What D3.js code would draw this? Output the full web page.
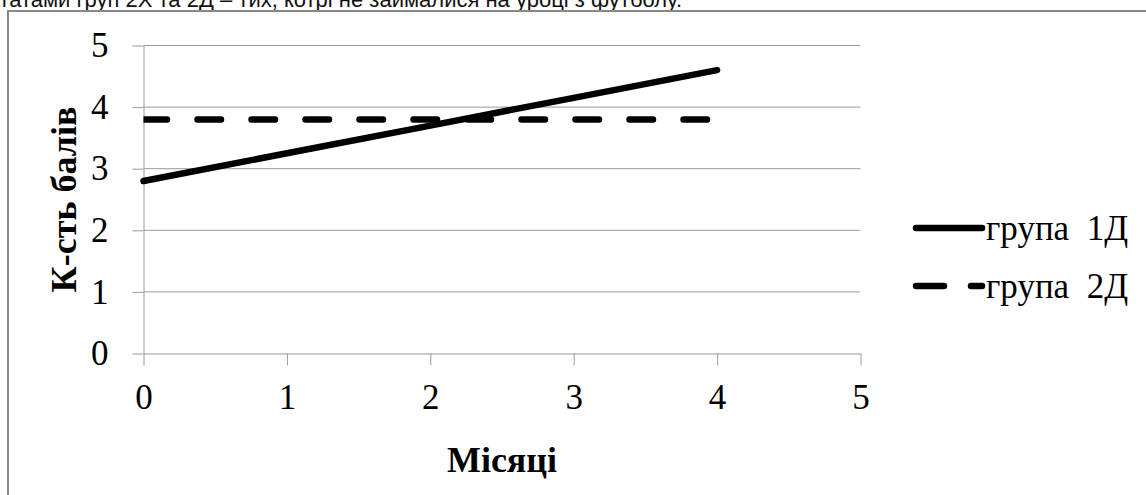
<!DOCTYPE html>
<html><head><meta charset="utf-8">
<script src="https://cdn.jsdelivr.net/npm/d3@7"></script>
<style>
html,body{margin:0;padding:0;background:#fff;overflow:hidden}
svg{display:block}
</style></head>
<body>
<svg id="c" width="1146" height="495"></svg>
<script>
const caption = "татами груп 2Х та 2Д – тих, котрі не займалися на уроці з футболу.";
const months = [0, 1, 2, 3, 4];
const group1 = [2.8, 3.25, 3.7, 4.15, 4.6];
const group2 = [3.8, 3.8, 3.8, 3.8, 3.8];
const seriesNames = ["група  1Д", "група  2Д"];
const xTicks = [0, 1, 2, 3, 4, 5];
const yTicks = [0, 1, 2, 3, 4, 5];
const xTitle = "Місяці";
const yTitle = "К-сть балів";

const svg = d3.select("#c");
const serif = "'Liberation Serif','Times New Roman',serif";
const grey = "#9a9a9a";

// caption (cut off at top, as in the source)
svg.append("text").attr("x", 682).attr("y", 7).attr("text-anchor", "end")
  .attr("font-family", "'Liberation Sans Narrow','Arial Narrow','Liberation Sans',Arial,sans-serif")
  .attr("font-size", 22).attr("fill", "#111").text(caption);

// outer frame
svg.append("rect").attr("x", 8).attr("y", 11).attr("width", 1200).attr("height", 600)
  .attr("fill", "none").attr("stroke", "#888").attr("stroke-width", 2);

const x = d3.scaleLinear().domain([0, 5]).range([143.5, 860.5]);
const y = d3.scaleLinear().domain([0, 5]).range([353.5, 45.5]);

// gridlines
svg.append("g").selectAll("line").data(yTicks.filter(d => d > 0)).join("line")
  .attr("x1", x(0)).attr("x2", x(5)).attr("y1", d => y(d)).attr("y2", d => y(d))
  .attr("stroke", grey).attr("stroke-width", 1);

// y axis
const ya = svg.append("g").attr("transform", `translate(${x(0)},0)`)
  .call(d3.axisLeft(y).tickValues(yTicks).tickSizeInner(11).tickSizeOuter(0).tickPadding(24).tickFormat(d3.format("d")));
ya.select(".domain").attr("stroke", grey);
ya.selectAll(".tick line").attr("stroke", grey);
ya.selectAll("text").attr("font-family", serif).attr("font-size", 35).attr("fill", "#000");

// x axis
const xa = svg.append("g").attr("transform", `translate(0,${y(0)})`)
  .call(d3.axisBottom(x).tickValues(xTicks).tickSizeInner(12).tickSizeOuter(0).tickPadding(19).tickFormat(d3.format("d")));
xa.select(".domain").attr("stroke", grey);
xa.selectAll(".tick line").attr("stroke", grey);
xa.selectAll("text").attr("font-family", serif).attr("font-size", 35).attr("fill", "#000");

// lines
const line = d3.line().x((d, i) => x(months[i])).y(d => y(d));
svg.append("defs").append("clipPath").attr("id", "pa").append("rect")
  .attr("x", x(0)).attr("y", y(5)).attr("width", x(5) - x(0)).attr("height", y(0) - y(5));
svg.append("path").datum(group1).attr("d", line).attr("fill", "none")
  .attr("stroke", "#000").attr("stroke-width", 6.5).attr("stroke-linecap", "round");
svg.append("path").datum(group2).attr("d", line).attr("fill", "none").attr("clip-path", "url(#pa)")
  .attr("stroke", "#000").attr("stroke-width", 6.5).attr("stroke-linecap", "round")
  .attr("stroke-dasharray", "23.5,30.5");

// titles
svg.append("text").attr("x", (x(0) + x(5)) / 2).attr("y", 472).attr("text-anchor", "middle")
  .attr("font-family", serif).attr("font-weight", "bold").attr("font-size", 36).text(xTitle);
svg.append("text").attr("transform", `translate(76,${(y(0) + y(5)) / 2}) rotate(-90)`)
  .attr("text-anchor", "middle").attr("font-family", serif).attr("font-weight", "bold")
  .attr("font-size", 36).text(yTitle);

// legend
const lg = svg.append("g");
const ly = [228, 286];
const dashes = [null, "28,27"];
seriesNames.forEach((name, i) => {
  lg.append("line").attr("x1", 916).attr("x2", 982).attr("y1", ly[i]).attr("y2", ly[i])
    .attr("stroke", "#000").attr("stroke-width", 6.5).attr("stroke-linecap", "round")
    .attr("stroke-dasharray", dashes[i]);
  lg.append("text").attr("x", 986).attr("y", ly[i]).attr("dy", "0.35em")
    .style("white-space", "pre")
    .attr("font-family", serif).attr("font-size", 35).text(name);
});
</script>
</body></html>
